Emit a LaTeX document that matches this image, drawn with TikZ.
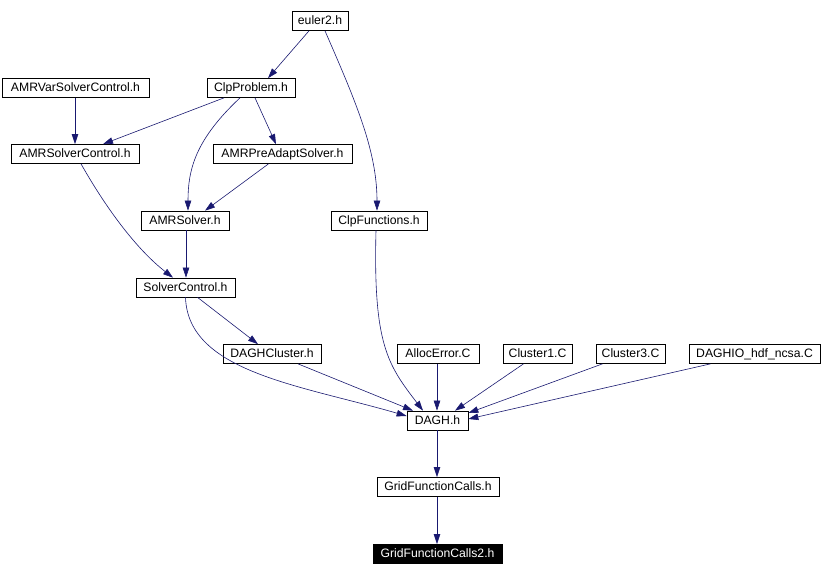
\documentclass[tikz,border=0pt]{standalone}
\usepackage{fontspec}
\setmainfont{Liberation Sans}
\usetikzlibrary{arrows.meta}
\definecolor{edgeblue}{RGB}{25,25,112}
\begin{document}
\begin{tikzpicture}[x=1pt, y=-1pt, line width=0.7pt,
	box/.style={draw=black, fill=white, inner sep=0pt, minimum height=19pt, text height=8.8pt, text depth=1.5pt, font=\fontsize{12.2}{13}\selectfont},
	edge/.style={draw=edgeblue, line width=0.6pt, -{Triangle[length=10pt,width=6.5pt]}}]
	\useasboundingbox (0,0) rectangle (822,576);
	
	% top rows
	\node[box, minimum width=56pt] (euler) at (320,21) {euler2.h};
	\node[box, minimum width=88pt] (clpprob) at (251,88) {ClpProblem.h};
	\node[box, minimum width=147pt] (amrvar) at (75.5,88) {AMRVarSolverControl.h};
	\node[box, minimum width=128pt] (amrctrl) at (75,154) {AMRSolverControl.h};
	\node[box, minimum width=139pt] (preadapt) at (282.5,154) {AMRPreAdaptSolver.h};
	\node[box, minimum width=88pt] (amrsolver) at (185,220.5) {AMRSolver.h};
	\node[box, minimum width=96pt] (clpfunc) at (379,220.5) {ClpFunctions.h};
	\node[box, minimum width=99pt] (solverctrl) at (185.5,287.5) {SolverControl.h};
	
	% row of sources of DAGH.h
	\node[box, minimum width=98pt] (daghcluster) at (272,354) {DAGHCluster.h};
	\node[box, minimum width=82pt] (allocerr) at (438,354) {AllocError.C};
	\node[box, minimum width=69pt] (cluster1) at (537.5,354) {Cluster1.C};
	\node[box, minimum width=69pt] (cluster3) at (630.5,354) {Cluster3.C};
	\node[box, minimum width=131pt] (daghio) at (754.5,354) {DAGHIO\_hdf\_ncsa.C};
	
	% bottom chain
	\node[box, minimum width=61pt] (dagh) at (437.5,420.5) {DAGH.h};
	\node[box, minimum width=122pt] (gridfc) at (438,487) {GridFunctionCalls.h};
	\node[box, minimum width=129pt, fill=black, text=white] (gridfc2) at (437.5,554) {GridFunctionCalls2.h};
	
	% edges
	\draw[edge] (euler.south) ++(-11,0) -- (clpprob.north -| 268,0);
	\draw[edge] (euler.south) ++(5,0) .. controls (355,100) and (377,150) .. (clpfunc.north -| 377,0);
	\draw[edge] (amrvar.south -| 75,0) -- (amrctrl.north -| 75,0);
	\draw[edge] (clpprob.south) ++(-27,0) -- (amrctrl.north -| 103,0);
	\draw[edge] (clpprob.south) ++(-11,0) .. controls (195,140) and (188,170) .. (amrsolver.north -| 188,0);
	\draw[edge] (clpprob.south) ++(4,0) -- (preadapt.north -| 276,0);
	\draw[edge] (preadapt.south) ++(-14,0) -- (amrsolver.north -| 205,0);
	\draw[edge] (amrctrl.south) ++(6,0) .. controls (110,215) and (140,252) .. (solverctrl.north -| 173,0);
	\draw[edge] (amrsolver.south -| 186,0) -- (solverctrl.north -| 186,0);
	\draw[edge] (solverctrl.south) ++(12,0) -- (daghcluster.north -| 258,0);
	\draw[edge] (solverctrl.south) ++(0,0) .. controls (188,372) and (300,385) .. (dagh.west |- 0,416);
	\draw[edge] (daghcluster.south) ++(26,0) -- (dagh.north -| 413,0);
	\draw[edge] (clpfunc.south) ++(-3,0) .. controls (373,345) and (388,365) .. (dagh.north -| 423,0);
	\draw[edge] (allocerr.south -| 437,0) -- (dagh.north -| 437,0);
	\draw[edge] (cluster1.south) ++(-14,0) -- (dagh.north -| 455,0);
	\draw[edge] (cluster3.south) ++(-28,0) -- (dagh.north east |- 0,413);
	\draw[edge] (daghio.south) ++(-44,0) -- (dagh.east |- 0,419);
	\draw[edge] (dagh.south -| 437,0) -- (gridfc.north -| 437,0);
	\draw[edge] (gridfc.south -| 437,0) -- (gridfc2.north -| 437,0);
\end{tikzpicture}
\end{document}
